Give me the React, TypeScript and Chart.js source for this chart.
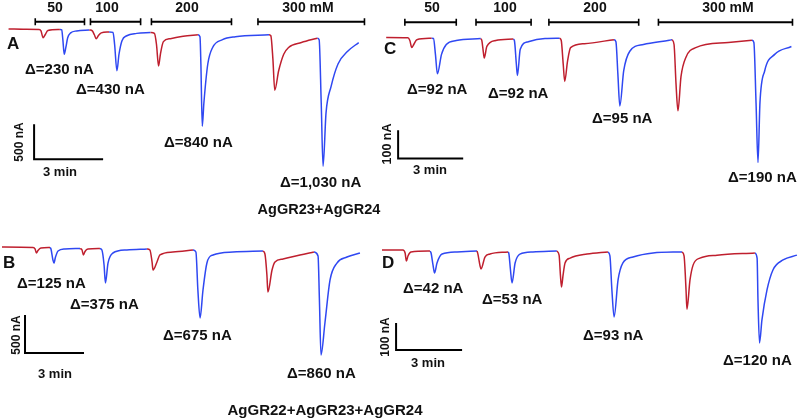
import React, { useEffect, useRef } from "react";
import { Chart, registerables } from "chart.js";
Chart.register(...registerables);

type Pt = [number, number];

// ---- Data (time in min, current in nA) ----
// Panel A: AgGR23+AgGR24
const aRed: Pt[][] = [
  [[0, 0], [0.73, -4], [1.33, -7], [1.41, -28], [1.5, -125], [1.59, -83], [1.71, -21], [2.23, -7]],
  [[3.51, -14], [3.64, -28], [3.73, -83], [3.81, -139], [3.9, -97], [4.03, -56], [4.37, -42]],
  [[6.17, -49], [6.34, -63], [6.43, -222], [6.52, -528], [6.6, -361], [6.73, -181], [7.03, -139], [7.59, -104], [8.23, -83]],
  [[11.32, -83], [11.4, -97], [11.49, -431], [11.57, -875], [11.74, -597], [11.96, -361], [12.17, -264], [12.73, -194], [13.42, -132]],
];
const aBlue: Pt[][] = [
  [[2.23, -7], [2.31, -14], [2.36, -153], [2.42, -361], [2.49, -264], [2.57, -125], [2.7, -56], [2.96, -28], [3.51, -14]],
  [[4.37, -42], [4.54, -49], [4.61, -222], [4.71, -597], [4.8, -361], [4.93, -167], [5.14, -97], [5.57, -63], [6.17, -49]],
  [[8.23, -83], [8.32, -111], [8.36, -500], [8.42, -1389], [8.49, -1056], [8.66, -500], [8.87, -264], [9.3, -153], [9.86, -111], [11.32, -83]],
  [[13.42, -132], [13.5, -153], [13.59, -1056], [13.67, -1958], [13.8, -1194], [14.02, -819], [14.32, -500], [14.74, -319], [15.22, -194]],
];
// Panel B: AgGR22+AgGR23+AgGR24
const bRed: Pt[][] = [
  [[0, 0], [1.58, -7], [1.68, -26], [1.75, -79], [1.83, -46], [1.98, -13], [2.44, -7]],
  [[3.97, -20], [4.07, -39], [4.14, -105], [4.22, -59], [4.37, -26], [4.98, -20]],
  [[7.37, -26], [7.52, -39], [7.63, -197], [7.68, -303], [7.88, -197], [8.03, -105], [8.69, -66], [9.71, -39]],
  [[13.27, -53], [13.37, -92], [13.47, -368], [13.52, -592], [13.73, -303], [13.88, -197], [14.29, -158], [15.15, -105], [15.86, -66]],
];
const bBlue: Pt[][] = [
  [[2.44, -7], [2.49, -26], [2.59, -171], [2.64, -211], [2.72, -132], [2.85, -53], [3.2, -26], [3.97, -20]],
  [[4.98, -20], [5.08, -39], [5.19, -237], [5.26, -474], [5.39, -211], [5.64, -79], [6.35, -39], [7.37, -26]],
  [[9.71, -39], [9.86, -66], [9.96, -566], [10.07, -934], [10.22, -566], [10.42, -211], [10.73, -105], [11.74, -66], [13.27, -53]],
  [[15.86, -66], [16.07, -118], [16.14, -697], [16.22, -1421], [16.42, -1000], [16.68, -434], [17.03, -211], [17.54, -132], [18.2, -79]],
];
// Panel C
const cRed: Pt[][] = [
  [[0, 0], [1.0, -1], [1.09, -11], [1.18, -36], [1.27, -25], [1.41, -8], [2.09, -3]],
  [[4.36, -4], [4.41, -11], [4.48, -53], [4.52, -73], [4.64, -32], [5.05, -11], [5.86, -6]],
  [[8.0, -3], [8.07, -11], [8.16, -94], [8.23, -156], [8.36, -84], [8.5, -36], [9.14, -22], [10.5, -8]],
  [[13.18, -8], [13.27, -25], [13.36, -163], [13.45, -260], [13.59, -139], [13.82, -70], [14.27, -36], [15.77, -18], [16.86, -10]],
];
const cBlue: Pt[][] = [
  [[2.09, -3], [2.18, -4], [2.27, -60], [2.36, -129], [2.55, -60], [2.77, -25], [3.23, -11], [4.36, -4]],
  [[5.86, -6], [5.91, -11], [6.0, -94], [6.05, -135], [6.18, -42], [6.55, -15], [7.32, -4], [8.0, -3]],
  [[10.5, -8], [10.59, -15], [10.68, -129], [10.77, -243], [10.95, -118], [11.23, -49], [11.86, -25], [13.05, -10], [13.18, -8]],
  [[16.86, -10], [16.95, -18], [17.05, -232], [17.14, -443], [17.23, -232], [17.45, -118], [17.91, -60], [18.68, -32]],
];
// Panel D
const dRed: Pt[][] = [
  [[0, 0], [0.95, 0], [1.05, -11], [1.11, -41], [1.18, -22], [1.32, -7], [2.18, -4]],
  [[4.32, -4], [4.36, -15], [4.45, -56], [4.5, -70], [4.68, -26], [4.91, -15], [5.73, -7]],
  [[7.95, -4], [8.05, -19], [8.11, -93], [8.16, -137], [8.23, -93], [8.32, -48], [8.55, -30], [9.32, -15], [10.27, -7]],
  [[13.64, -7], [13.73, -22], [13.82, -148], [13.86, -219], [14.0, -111], [14.14, -56], [14.45, -30], [15.23, -19], [16.95, -11]],
];
const dBlue: Pt[][] = [
  [[2.18, -4], [2.23, -11], [2.32, -56], [2.39, -85], [2.5, -48], [2.73, -15], [3.41, -7], [4.32, -4]],
  [[5.73, -7], [5.77, -15], [5.84, -74], [5.91, -122], [6.05, -48], [6.27, -15], [6.86, -7], [7.95, -4]],
  [[10.27, -7], [10.36, -22], [10.45, -148], [10.55, -248], [10.73, -111], [10.95, -48], [11.41, -26], [12.32, -11], [13.64, -7]],
  [[16.95, -11], [17.05, -30], [17.09, -185], [17.16, -344], [17.27, -259], [17.5, -148], [17.77, -74], [18.23, -37], [18.86, -19]],
];

// Concentration application periods (start, end in min)
const concLabels = ["50", "100", "200", "300 mM"];
const aConcPeriods: Pt[] = [[1.16, 3.3], [3.56, 5.74], [6.21, 9.69], [10.84, 15.47]];
const cConcPeriods: Pt[] = [[0.86, 3.23], [4.14, 6.68], [7.5, 11.64], [12.55, 18.73]];

// Peak amplitude labels
const aDeltas = ["Δ=230 nA", "Δ=430 nA", "Δ=840 nA", "Δ=1,030 nA"];
const bDeltas = ["Δ=125 nA", "Δ=375 nA", "Δ=675 nA", "Δ=860 nA"];
const cDeltas = ["Δ=92 nA", "Δ=92 nA", "Δ=95 nA", "Δ=190 nA"];
const dDeltas = ["Δ=42 nA", "Δ=53 nA", "Δ=93 nA", "Δ=120 nA"];

// Scale bars (current nA, time min)
const scaleCurrent = [500, 500, 100, 100];
const scaleTime = [3, 3, 3, 3];
const groupTitles = ["AgGR23+AgGR24", "AgGR22+AgGR23+AgGR24"];

// ---- Layout / style ----
const W = 800;
const H = 419;
const RED = "#bf1f2e";
const BLUE = "#2f48f2";
const FONT = '"Liberation Sans", Arial, Helvetica, sans-serif';

type PanelCfg = {
  red: Pt[][];
  blue: Pt[][];
  x0: number; y0: number; pxPerMin: number; pxPerNA: number;
  bar: { t: number; v: number; nA: number; min: number };
  conc?: { periods: Pt[]; level: number };
};

const panels: PanelCfg[] = [
  { red: aRed, blue: aBlue, x0: 3, y0: 24, pxPerMin: 70 / 3, pxPerNA: 36 / 500,
    bar: { t: 1.11, v: -1861, nA: scaleCurrent[0], min: scaleTime[0] },
    conc: { periods: aConcPeriods, level: 104 } },
  { red: bRed, blue: bBlue, x0: 2, y0: 247, pxPerMin: 59 / 3, pxPerNA: 38 / 500,
    bar: { t: 1.17, v: -1395, nA: scaleCurrent[1], min: scaleTime[1] } },
  { red: cRed, blue: cBlue, x0: 386, y0: 32.7, pxPerMin: 22, pxPerNA: 29 / 100,
    bar: { t: 0.55, v: -429, nA: scaleCurrent[2], min: scaleTime[2] },
    conc: { periods: cConcPeriods, level: 54 } },
  { red: dRed, blue: dBlue, x0: 382, y0: 250, pxPerMin: 22, pxPerNA: 27 / 100,
    bar: { t: 0.64, v: -370, nA: scaleCurrent[3], min: scaleTime[3] } },
];

function segData(segs: Pt[][]) {
  const out: { x: number; y: number | null }[] = [];
  segs.forEach((s, i) => {
    s.forEach(([x, y]) => out.push({ x, y }));
    if (i < segs.length - 1) out.push({ x: (s[s.length - 1][0] + segs[i + 1][0][0]) / 2, y: null });
  });
  return out;
}

function PanelChart({ cfg }: { cfg: PanelCfg }) {
  const ref = useRef<HTMLCanvasElement | null>(null);
  useEffect(() => {
    if (!ref.current) return;
    const datasets: any[] = [
      { data: segData(cfg.red), borderColor: RED, borderWidth: 1.5, pointRadius: 0, cubicInterpolationMode: "monotone", spanGaps: false },
      { data: segData(cfg.blue), borderColor: BLUE, borderWidth: 1.5, pointRadius: 0, cubicInterpolationMode: "monotone", spanGaps: false },
      { data: [
          { x: cfg.bar.t, y: cfg.bar.v + cfg.bar.nA },
          { x: cfg.bar.t, y: cfg.bar.v },
          { x: cfg.bar.t + cfg.bar.min, y: cfg.bar.v },
        ], borderColor: "#000", borderWidth: 2, pointRadius: 0, tension: 0 },
    ];
    if (cfg.conc) {
      const d: { x: number; y: number | null }[] = [];
      const lv = cfg.conc.level;
      cfg.conc.periods.forEach(([s, e], i, arr) => {
        d.push({ x: s, y: lv }, { x: e, y: lv });
        if (i < arr.length - 1) d.push({ x: (e + arr[i + 1][0]) / 2, y: null });
      });
      datasets.push({ data: d, borderColor: "#000", borderWidth: 2, pointStyle: "line", rotation: 90,
        pointRadius: 3.5, pointBorderWidth: 1.6, pointBorderColor: "#000", tension: 0, spanGaps: false });
    }
    const chart = new Chart(ref.current, {
      type: "line",
      data: { datasets },
      options: {
        responsive: false,
        animation: false,
        events: [],
        layout: { padding: 0 },
        plugins: { legend: { display: false }, tooltip: { enabled: false }, title: { display: false } },
        scales: {
          x: { type: "linear", display: false, min: -cfg.x0 / cfg.pxPerMin, max: (W - cfg.x0) / cfg.pxPerMin },
          y: { type: "linear", display: false, min: -(H - cfg.y0) / cfg.pxPerNA, max: cfg.y0 / cfg.pxPerNA },
        },
      } as any,
    });
    return () => chart.destroy();
  }, [cfg]);
  return <canvas ref={ref} width={W} height={H} style={{ position: "absolute", left: 0, top: 0 }} />;
}

type Lbl = { text: string; x: number; y: number; size: number; align?: "left" | "center"; rot?: boolean };

const labels: Lbl[] = [
  { text: "A", x: 7, y: 43, size: 17, align: "left" },
  { text: "B", x: 3, y: 262, size: 17, align: "left" },
  { text: "C", x: 384, y: 48, size: 17, align: "left" },
  { text: "D", x: 382, y: 262, size: 17, align: "left" },
  // concentration labels
  { text: concLabels[0], x: 55, y: 7, size: 14 },
  { text: concLabels[1], x: 107, y: 7, size: 14 },
  { text: concLabels[2], x: 187, y: 7, size: 14 },
  { text: concLabels[3], x: 308, y: 7, size: 14 },
  { text: concLabels[0], x: 432, y: 7, size: 14 },
  { text: concLabels[1], x: 505, y: 7, size: 14 },
  { text: concLabels[2], x: 595, y: 7, size: 14 },
  { text: concLabels[3], x: 728, y: 7, size: 14 },
  // deltas
  { text: aDeltas[0], x: 25, y: 68, size: 15, align: "left" },
  { text: aDeltas[1], x: 76, y: 88, size: 15, align: "left" },
  { text: aDeltas[2], x: 164, y: 141, size: 15, align: "left" },
  { text: aDeltas[3], x: 280, y: 181, size: 15, align: "left" },
  { text: bDeltas[0], x: 17, y: 282, size: 15, align: "left" },
  { text: bDeltas[1], x: 70, y: 303, size: 15, align: "left" },
  { text: bDeltas[2], x: 163, y: 334, size: 15, align: "left" },
  { text: bDeltas[3], x: 287, y: 372, size: 15, align: "left" },
  { text: cDeltas[0], x: 407, y: 88, size: 15, align: "left" },
  { text: cDeltas[1], x: 488, y: 92, size: 15, align: "left" },
  { text: cDeltas[2], x: 592, y: 117, size: 15, align: "left" },
  { text: cDeltas[3], x: 728, y: 176, size: 15, align: "left" },
  { text: dDeltas[0], x: 403, y: 287, size: 15, align: "left" },
  { text: dDeltas[1], x: 482, y: 298, size: 15, align: "left" },
  { text: dDeltas[2], x: 583, y: 334, size: 15, align: "left" },
  { text: dDeltas[3], x: 723, y: 359, size: 15, align: "left" },
  // titles
  { text: groupTitles[0], x: 319, y: 209, size: 14.5 },
  { text: groupTitles[1], x: 325, y: 409, size: 15 },
  // scale bar labels
  { text: `${scaleCurrent[0]} nA`, x: 19, y: 142, size: 12, rot: true },
  { text: `${scaleTime[0]} min`, x: 60, y: 171, size: 13 },
  { text: `${scaleCurrent[1]} nA`, x: 16, y: 335, size: 12, rot: true },
  { text: `${scaleTime[1]} min`, x: 55, y: 373, size: 13 },
  { text: `${scaleCurrent[2]} nA`, x: 387, y: 144, size: 12.5, rot: true },
  { text: `${scaleTime[2]} min`, x: 430, y: 169, size: 13 },
  { text: `${scaleCurrent[3]} nA`, x: 385, y: 337, size: 12, rot: true },
  { text: `${scaleTime[3]} min`, x: 428, y: 362, size: 13 },
];

export default function App() {
  return (
    <div style={{ position: "absolute", left: 0, top: 0, width: W, height: H, background: "#fff", overflow: "hidden" }}>
      {panels.map((p, i) => (
        <PanelChart key={i} cfg={p} />
      ))}
      {labels.map((l, i) => (
        <span
          key={i}
          style={{
            position: "absolute",
            left: l.x,
            top: l.y,
            fontFamily: FONT,
            fontWeight: 700,
            fontSize: l.size,
            lineHeight: 1,
            color: "#111",
            whiteSpace: "nowrap",
            transform: l.rot
              ? "translate(-50%, -50%) rotate(-90deg)"
              : l.align === "left"
              ? "translate(0, -50%)"
              : "translate(-50%, -50%)",
          }}
        >
          {l.text}
        </span>
      ))}
    </div>
  );
}
